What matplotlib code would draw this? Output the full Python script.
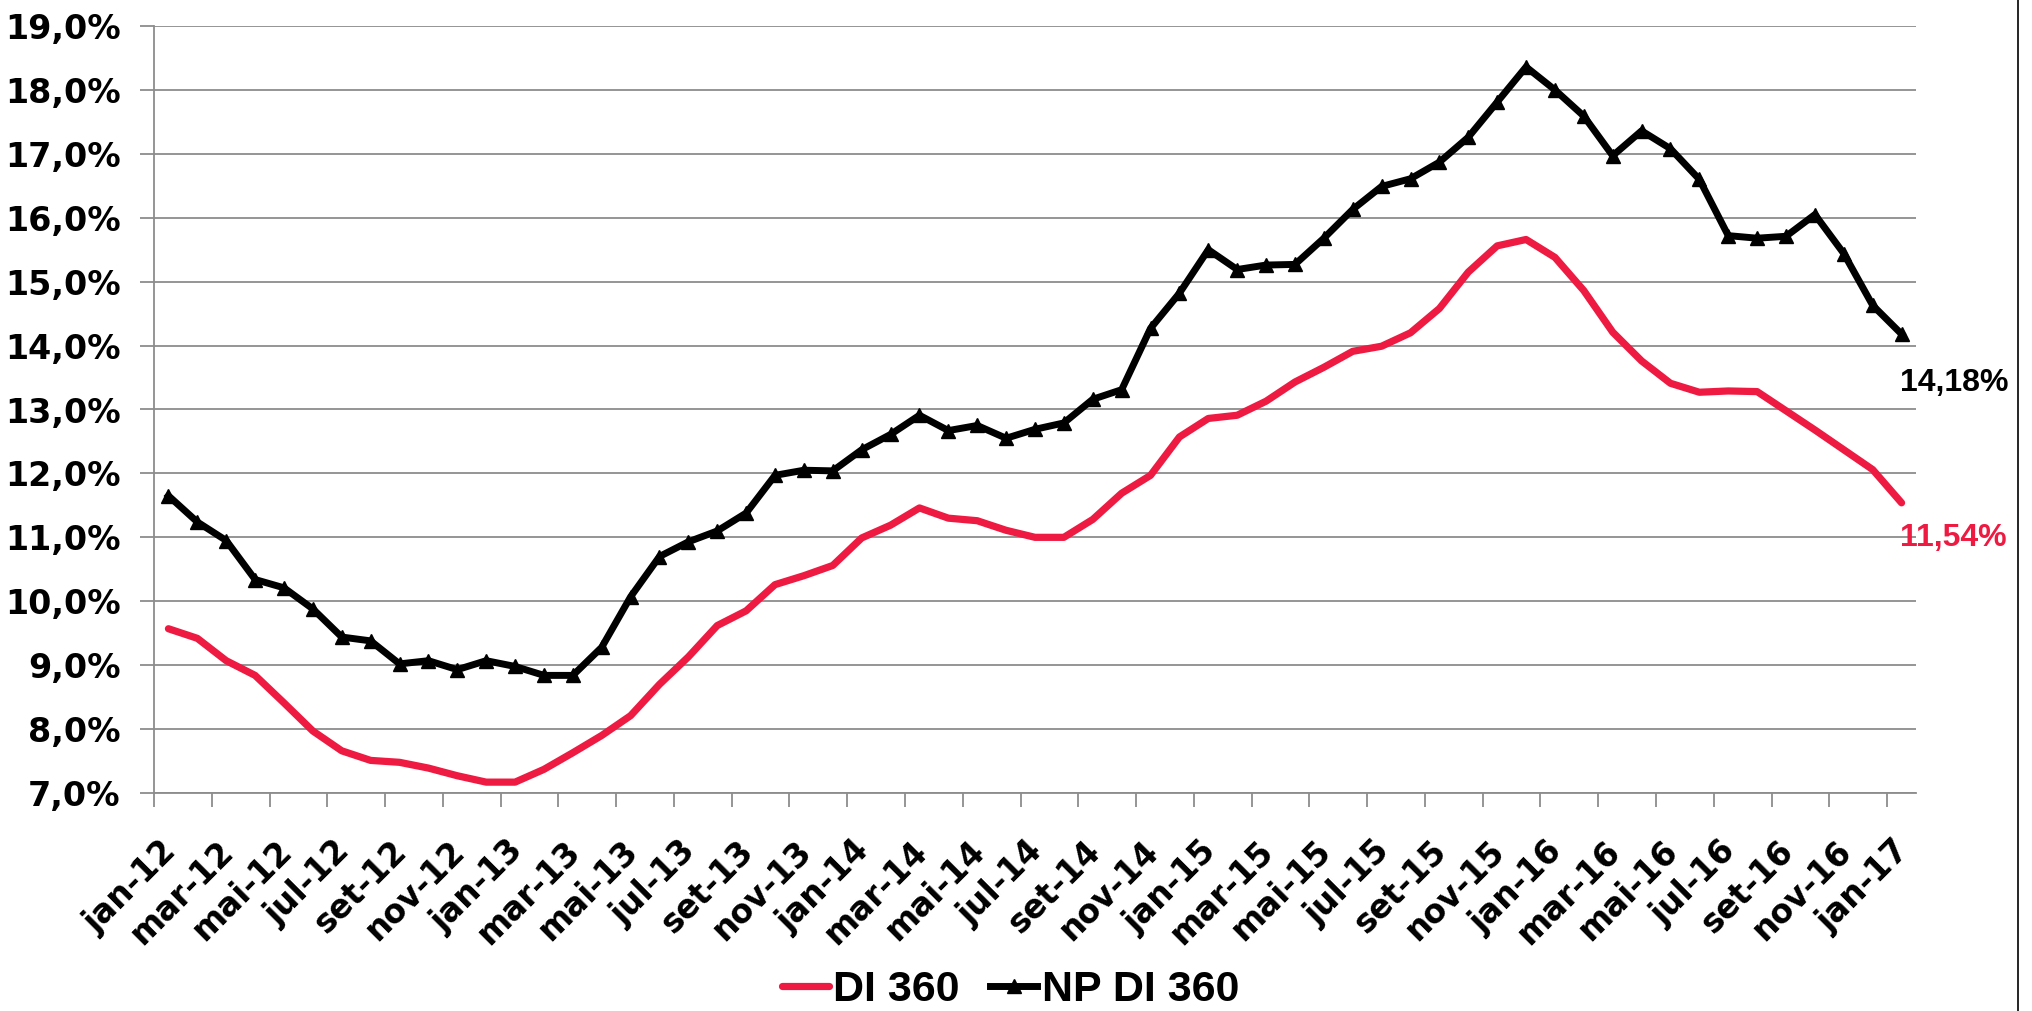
import matplotlib
matplotlib.use("Agg")
import matplotlib.pyplot as plt
import matplotlib.transforms as mtransforms
from matplotlib.lines import Line2D
import numpy as np

month_names = ["jan", "fev", "mar", "abr", "mai", "jun", "jul", "ago", "set", "out", "nov", "dez"]
years = ["12", "13", "14", "15", "16", "17"]
categories = [f"{m}-{y}" for y in years for m in month_names][:61]

di360 = [9.57, 9.42, 9.07, 8.84, 8.41, 7.97, 7.66, 7.51, 7.48, 7.39, 7.27, 7.17,
         7.17, 7.37, 7.63, 7.90, 8.21, 8.70, 9.13, 9.62, 9.85, 10.26, 10.40, 10.56,
         10.99, 11.19, 11.46, 11.30, 11.26, 11.11, 11.00, 11.00, 11.28, 11.69, 11.97, 12.57,
         12.86, 12.91, 13.13, 13.43, 13.66, 13.91, 13.99, 14.20, 14.58, 15.15, 15.56, 15.66,
         15.38, 14.86, 14.21, 13.76, 13.41, 13.27, 13.29, 13.28, 12.98, 12.68, 12.37, 12.06,
         11.54]
np_di360 = [11.65, 11.24, 10.95, 10.34, 10.21, 9.88, 9.44, 9.38, 9.02, 9.07, 8.93, 9.07,
            8.98, 8.84, 8.84, 9.28, 10.07, 10.70, 10.93, 11.10, 11.38, 11.97, 12.05, 12.04,
            12.37, 12.61, 12.91, 12.67, 12.75, 12.55, 12.69, 12.79, 13.16, 13.31, 14.27, 14.82,
            15.50, 15.19, 15.26, 15.27, 15.68, 16.13, 16.49, 16.61, 16.87, 17.26, 17.81, 18.36,
            18.00, 17.59, 16.97, 17.36, 17.08, 16.60, 15.72, 15.68, 15.71, 16.05, 15.44, 14.63,
            14.18]
series_names = ["DI 360", "NP DI 360"]
y_ticks = [7, 8, 9, 10, 11, 12, 13, 14, 15, 16, 17, 18, 19]

RED = "#EE1A41"
GRID = "#8C8C8C"

W, H = 2033, 1011
fig = plt.figure(figsize=(W / 100, H / 100), dpi=100)
ax = fig.add_axes([154 / W, 1 - 793 / H, (1916 - 154) / W, (793 - 26) / H])

x = np.arange(len(categories))
l1, = ax.plot(x, di360, color=RED, lw=5.2, solid_capstyle="round", solid_joinstyle="round",
              label=series_names[0], zorder=3)
l2, = ax.plot(x, np_di360, color="black", lw=5.0, marker="^", markersize=10,
              solid_joinstyle="round", label=series_names[1], zorder=4)

ax.set_xlim(-0.5, len(categories) - 0.5)
ax.set_ylim(7, 19)
ax.set_yticks(y_ticks)
ax.set_yticklabels([f"{v:.1f}%".replace(".", ",") for v in y_ticks],
                   fontfamily="DejaVu Sans", fontweight="bold", fontsize=24)
ax.yaxis.grid(True, color=GRID, lw=1.3)
ax.set_axisbelow(True)

# x ticks at category boundaries every 2 months; labels at category centers
ax.set_xticks(np.arange(-0.5, len(categories) - 0.5, 2))
ax.set_xticklabels([])
ax.set_xticks(x[::2], minor=True)
ax.set_xticklabels([categories[i] for i in x[::2]], minor=True, rotation=45, ha="right",
                   va="top", fontfamily="DejaVu Sans", fontweight="bold", fontsize=23.5)
ax.tick_params(axis="x", which="minor", length=0, pad=30)
ax.tick_params(axis="x", which="major", length=10, width=1.3, color=GRID, direction="out")
ax.tick_params(axis="y", length=10, width=1.3, color=GRID, direction="out", pad=14)
offset = mtransforms.ScaledTranslation(14 / 100, 0, fig.dpi_scale_trans)
for lab in ax.get_xticklabels(minor=True):
    lab.set_transform(lab.get_transform() + offset)

for side in ["top", "right"]:
    ax.spines[side].set_visible(False)
ax.spines["left"].set_color(GRID)
ax.spines["bottom"].set_color(GRID)
ax.spines["left"].set_linewidth(1.3)
ax.spines["bottom"].set_linewidth(1.3)

last = len(categories) - 1
ax.annotate(f"{np_di360[-1]:.2f}%".replace(".", ","), (x[last], np_di360[-1]),
            xytext=(-1, -35), textcoords="offset points", ha="left", va="center",
            fontfamily="Liberation Sans", fontweight="bold", fontsize=23, color="black")
ax.annotate(f"{di360[-1]:.2f}%".replace(".", ","), (x[last], di360[-1]),
            xytext=(-1, -25), textcoords="offset points", ha="left", va="center",
            fontfamily="Liberation Sans", fontweight="bold", fontsize=23, color=RED)

leg = fig.legend(handles=[l1, l2], loc="center", bbox_to_anchor=(0.497, 1 - 990 / H),
                 ncol=2, frameon=False, handlelength=1.1, handletextpad=0.1, columnspacing=0.7,
                 numpoints=1, prop={"family": "Liberation Sans", "weight": "bold", "size": 31})

fig.add_artist(Line2D([2018 / W, 2018 / W], [0, 1], color="black", lw=1.2))

fig.savefig("out.png", dpi=100)
